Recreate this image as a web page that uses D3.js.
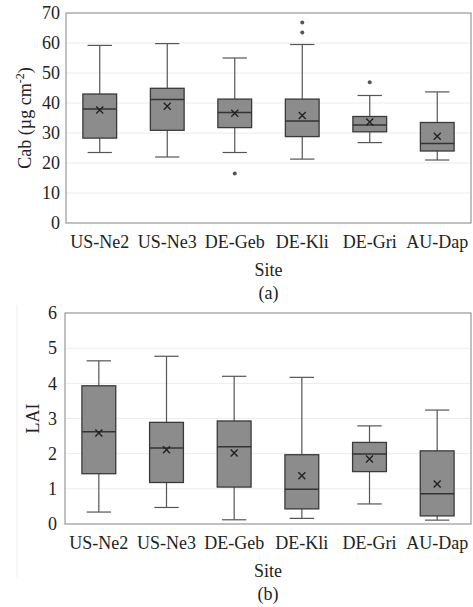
<!DOCTYPE html>
<html lang="en">
<head>
    <meta charset="UTF-8">
    <title>Cab and LAI by site</title>
    <style>
        body {
            margin: 0;
            padding: 0;
            background-color: #fff;
        }

        svg text {
            font-family: "Liberation Serif", "Times New Roman", serif;
            fill: #222;
        }
    </style>
</head>
<body>

<svg width="473" height="607" id="chart"></svg>

<script src="https://d3js.org/d3.v7.min.js"></script>
<script>
    // Sites on the x axis
    const sites = ["US-Ne2", "US-Ne3", "DE-Geb", "DE-Kli", "DE-Gri", "AU-Dap"];

    // (a) Cab, µg cm-2
    const cabMin    = [23.5, 22.0, 23.5, 21.3, 26.8, 21.0];
    const cabQ1     = [28.3, 30.9, 31.8, 28.8, 30.4, 24.0];
    const cabMedian = [38.0, 41.2, 36.8, 34.0, 32.7, 26.5];
    const cabQ3     = [43.0, 44.9, 41.3, 41.3, 35.5, 33.5];
    const cabMax    = [59.2, 59.8, 55.0, 59.5, 42.5, 43.7];
    const cabMean   = [37.7, 38.9, 36.6, 35.8, 33.7, 28.9];
    const cabOutliers = [[], [], [16.5], [63.5, 66.8], [46.9], []];
    const cabTicks  = [0, 10, 20, 30, 40, 50, 60, 70];

    // (b) LAI
    const laiMin    = [0.34, 0.47, 0.12, 0.16, 0.57, 0.11];
    const laiQ1     = [1.43, 1.18, 1.05, 0.43, 1.49, 0.23];
    const laiMedian = [2.62, 2.16, 2.20, 0.99, 1.99, 0.86];
    const laiQ3     = [3.93, 2.89, 2.93, 1.97, 2.32, 2.08];
    const laiMax    = [4.64, 4.77, 4.20, 4.17, 2.79, 3.24];
    const laiMean   = [2.59, 2.11, 2.02, 1.37, 1.85, 1.14];
    const laiOutliers = [[], [], [], [], [], []];
    const laiTicks  = [0, 1, 2, 3, 4, 5, 6];

    const svg = d3.select("#chart");

    function drawPanel(opt) {
        const x = d3.scaleBand()
            .domain(sites)
            .range([opt.left, opt.right])
            .paddingInner(0)
            .paddingOuter(0);

        const y = d3.scaleLinear()
            .domain([opt.ticks[0], opt.ticks[opt.ticks.length - 1]])
            .range([opt.bottom, opt.top]);

        const g = svg.append("g");

        // gridlines
        g.selectAll("line.grid")
            .data(opt.ticks.slice(1, -1))
            .enter().append("line")
            .attr("x1", opt.left)
            .attr("x2", opt.right)
            .attr("y1", d => y(d))
            .attr("y2", d => y(d))
            .attr("stroke", "#ececec")
            .attr("stroke-width", 1);

        // y axis tick labels
        const yAxis = g.append("g")
            .attr("transform", `translate(${opt.left},0)`)
            .call(d3.axisLeft(y)
                .tickValues(opt.ticks)
                .tickFormat(d3.format("d"))
                .tickSize(0)
                .tickPadding(opt.tickPad));
        yAxis.select(".domain").remove();
        yAxis.selectAll("text")
            .attr("font-size", "18px")
            .attr("fill", "#222")
            .style("font-family", "'Liberation Serif', serif");

        // x axis labels
        const xAxis = g.append("g")
            .attr("transform", `translate(0,${opt.bottom})`)
            .call(d3.axisBottom(x).tickSize(0).tickPadding(12));
        xAxis.select(".domain").remove();
        xAxis.selectAll("text")
            .attr("font-size", "18px")
            .attr("fill", "#222")
            .style("font-family", "'Liberation Serif', serif");

        const bw = x.bandwidth() * 0.5;
        const cap = bw * 0.36;
        const cx = d => x(d) + x.bandwidth() / 2;

        const rows = sites.map((s, i) => ({
            site: s, min: opt.min[i], q1: opt.q1[i], med: opt.med[i],
            q3: opt.q3[i], max: opt.max[i], mean: opt.mean[i], out: opt.out[i]
        }));

        const box = g.selectAll("g.box")
            .data(rows)
            .enter().append("g");

        // whiskers
        box.append("line")
            .attr("x1", d => cx(d.site)).attr("x2", d => cx(d.site))
            .attr("y1", d => y(d.max)).attr("y2", d => y(d.q3))
            .attr("stroke", "#555").attr("stroke-width", 1.2);
        box.append("line")
            .attr("x1", d => cx(d.site)).attr("x2", d => cx(d.site))
            .attr("y1", d => y(d.q1)).attr("y2", d => y(d.min))
            .attr("stroke", "#555").attr("stroke-width", 1.2);
        box.append("line")
            .attr("x1", d => cx(d.site) - cap).attr("x2", d => cx(d.site) + cap)
            .attr("y1", d => y(d.max)).attr("y2", d => y(d.max))
            .attr("stroke", "#555").attr("stroke-width", 1.2);
        box.append("line")
            .attr("x1", d => cx(d.site) - cap).attr("x2", d => cx(d.site) + cap)
            .attr("y1", d => y(d.min)).attr("y2", d => y(d.min))
            .attr("stroke", "#555").attr("stroke-width", 1.2);

        // box
        box.append("rect")
            .attr("x", d => cx(d.site) - bw / 2)
            .attr("y", d => y(d.q3))
            .attr("width", bw)
            .attr("height", d => y(d.q1) - y(d.q3))
            .attr("fill", "#8c8c8c")
            .attr("stroke", "#3a3a3a")
            .attr("stroke-width", 1.3);

        // median
        box.append("line")
            .attr("x1", d => cx(d.site) - bw / 2).attr("x2", d => cx(d.site) + bw / 2)
            .attr("y1", d => y(d.med)).attr("y2", d => y(d.med))
            .attr("stroke", "#333").attr("stroke-width", 1.5);

        // mean marker (x)
        const m = 3.5;
        box.append("path")
            .attr("d", d => {
                const px = cx(d.site), py = y(d.mean);
                return `M${px - m},${py - m}L${px + m},${py + m}M${px - m},${py + m}L${px + m},${py - m}`;
            })
            .attr("stroke", "#222").attr("stroke-width", 1.4).attr("fill", "none");

        // outliers
        box.selectAll("circle")
            .data(d => d.out.map(v => ({ site: d.site, v: v })))
            .enter().append("circle")
            .attr("cx", d => cx(d.site))
            .attr("cy", d => y(d.v))
            .attr("r", 2)
            .attr("fill", "#555");

        // plot frame
        g.append("rect")
            .attr("x", opt.left).attr("y", opt.top)
            .attr("width", opt.right - opt.left)
            .attr("height", opt.bottom - opt.top)
            .attr("fill", "none")
            .attr("stroke", "#a0a0a0")
            .attr("stroke-width", 1.3);

        // axis titles
        const mid = (opt.left + opt.right) / 2;
        g.append("text")
            .attr("x", mid).attr("y", opt.siteY)
            .attr("text-anchor", "middle")
            .attr("font-size", "18px")
            .text("Site");

        g.append("text")
            .attr("x", mid).attr("y", opt.captionY)
            .attr("text-anchor", "middle")
            .attr("font-size", "18px")
            .text(opt.caption);

        const yt = g.append("text")
            .attr("transform", `translate(${opt.titleX},${(opt.top + opt.bottom) / 2}) rotate(-90)`)
            .attr("text-anchor", "middle")
            .attr("font-size", "18px");
        opt.yTitle(yt);

        return g;
    }

    drawPanel({
        left: 66, right: 471, top: 13, bottom: 223,
        ticks: cabTicks, tickPad: 6,
        min: cabMin, q1: cabQ1, med: cabMedian, q3: cabQ3, max: cabMax,
        mean: cabMean, out: cabOutliers,
        siteY: 276, captionY: 299, caption: "(a)", titleX: 31,
        yTitle: t => {
            t.append("tspan").text("Cab (µg cm");
            t.append("tspan").attr("font-size", "12px").attr("dy", "-7").text("-2");
            t.append("tspan").attr("dy", "7").text(")");
        }
    });

    // faint outer chart border of panel (b)
    svg.append("line")
        .attr("x1", 17).attr("x2", 17)
        .attr("y1", 305).attr("y2", 577)
        .attr("stroke", "#efefef");

    drawPanel({
        left: 65, right: 471, top: 313, bottom: 524,
        ticks: laiTicks, tickPad: 8,
        min: laiMin, q1: laiQ1, med: laiMedian, q3: laiQ3, max: laiMax,
        mean: laiMean, out: laiOutliers,
        siteY: 577, captionY: 600, caption: "(b)", titleX: 39,
        yTitle: t => t.text("LAI")
    });
</script>

</body>
</html>
